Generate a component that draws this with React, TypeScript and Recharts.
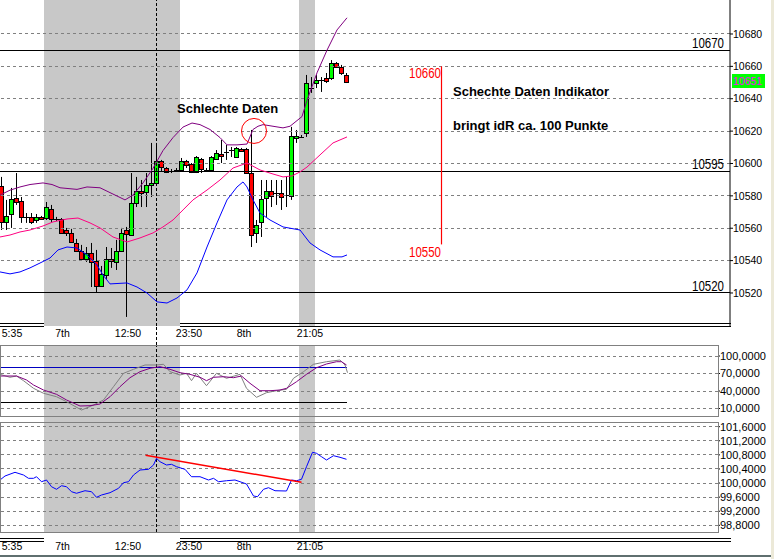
import React from "react";
import {
  ComposedChart, Bar, Line, XAxis, YAxis,
  ReferenceArea, ReferenceLine, ReferenceDot,
} from "recharts";

const FONT = '"Liberation Sans", Arial, sans-serif';

// --- candles (index 0..69) ---
const opens = [
  10586.1, 10563.9, 10568.8, 10578.7, 10576.8, 10567.0, 10567.0, 10565.1, 10567.0, 10566.3,
  10571.9, 10565.7, 10565.7, 10558.9, 10557.1, 10550.9, 10546.0, 10541.0, 10544.7, 10539.8,
  10524.3, 10531.1, 10541.0, 10539.2, 10546.0, 10558.9, 10555.8, 10575.6, 10583.0, 10582.4,
  10586.7, 10588.0, 10601.6, 10597.2, 10595.4, 10596.0, 10596.0, 10601.6, 10599.7, 10594.8,
  10602.8, 10596.0, 10596.0, 10602.8, 10605.9, 10607.1, 10608.3, 10604.0, 10609.0, 10609.0,
  10594.1, 10557.1, 10563.9, 10578.7, 10583.0, 10581.8, 10581.8, 10580.5, 10579.9, 10615.8,
  10616.4, 10618.8, 10646.6, 10649.7, 10651.6, 10652.8, 10652.8, 10662.1, 10659.6, 10654.7,
];
const closes = [
  10563.9, 10567.6, 10578.1, 10576.2, 10567.0, 10566.6, 10563.9, 10567.0, 10565.7, 10573.1,
  10565.7, 10565.7, 10557.1, 10557.1, 10551.5, 10546.0, 10541.0, 10544.7, 10539.2, 10524.3,
  10531.8, 10541.0, 10539.8, 10546.0, 10557.1, 10556.5, 10575.6, 10583.0, 10581.8, 10586.7,
  10588.0, 10601.6, 10597.8, 10594.8, 10595.4, 10596.0, 10601.6, 10599.1, 10594.8, 10604.0,
  10596.6, 10596.0, 10604.0, 10606.5, 10604.6, 10607.1, 10608.3, 10609.6, 10607.7, 10594.1,
  10555.8, 10562.0, 10578.1, 10583.0, 10579.9, 10581.8, 10579.3, 10580.5, 10617.0, 10617.0,
  10616.4, 10649.7, 10646.6, 10651.6, 10651.6, 10651.0, 10662.1, 10659.6, 10655.9, 10650.4,
];
const highs = [
  10591.7, 10577.5, 10584.9, 10594.1, 10579.3, 10569.4, 10569.4, 10568.8, 10567.6, 10576.2,
  10574.4, 10567.0, 10566.3, 10560.2, 10559.6, 10553.4, 10549.7, 10548.4, 10550.9, 10546.6,
  10536.7, 10548.4, 10547.8, 10552.8, 10560.2, 10560.8, 10594.1, 10591.7, 10589.8, 10594.1,
  10612.7, 10612.7, 10602.2, 10597.8, 10596.6, 10597.2, 10603.4, 10602.2, 10600.3, 10604.6,
  10603.4, 10597.2, 10604.6, 10608.3, 10614.5, 10611.4, 10610.2, 10610.2, 10609.6, 10609.6,
  10620.7, 10565.1, 10589.8, 10589.8, 10589.8, 10589.8, 10589.8, 10591.7, 10622.6, 10620.7,
  10617.6, 10654.7, 10653.4, 10654.7, 10653.4, 10655.9, 10663.9, 10662.7, 10660.9, 10655.9,
];
const lows = [
  10558.9, 10558.9, 10560.2, 10574.4, 10563.3, 10563.3, 10562.6, 10563.3, 10565.1, 10565.1,
  10563.9, 10564.5, 10556.5, 10555.2, 10550.9, 10545.3, 10540.4, 10539.2, 10523.7, 10520.0,
  10523.7, 10528.7, 10535.5, 10534.2, 10545.3, 10505.2, 10555.2, 10573.1, 10573.1, 10573.1,
  10579.3, 10587.4, 10594.8, 10594.1, 10594.1, 10594.8, 10594.8, 10597.2, 10594.1, 10594.1,
  10594.1, 10594.8, 10595.4, 10602.2, 10600.3, 10602.2, 10604.0, 10603.4, 10607.1, 10593.5,
  10548.4, 10550.9, 10554.6, 10567.0, 10573.1, 10574.4, 10571.3, 10573.1, 10577.5, 10612.7,
  10615.8, 10616.4, 10643.6, 10646.6, 10644.2, 10649.7, 10651.6, 10659.0, 10654.7, 10649.7,
];

// --- bollinger bands [index, price] ---
const upperBand: [number, number][] = [
  [-0.3, 10580.5], [1.7, 10583.5], [3.7, 10585.5], [5.7, 10587], [8.3, 10588], [10.1, 10587],
  [11.7, 10585], [15.1, 10584], [17.1, 10585.5], [19.7, 10585], [21.7, 10582], [24.7, 10577.5],
  [26.3, 10580.5], [28.3, 10588], [30.3, 10597], [32.3, 10608], [34.3, 10616], [36.3, 10622.5],
  [38.1, 10625], [39.7, 10624], [41.7, 10621], [43.7, 10616], [45.1, 10611.5], [47.1, 10611.5],
  [49.1, 10612], [50.3, 10621], [51.3, 10623], [52.3, 10624], [56.3, 10622], [57.7, 10623],
  [60.1, 10629], [61.1, 10639], [63.1, 10656], [65.1, 10670], [67.1, 10682.5], [69.1, 10690],
];
const middleBand: [number, number][] = [
  [-0.3, 10554.6], [1.7, 10555.8], [3.7, 10557.7], [5.7, 10558.9], [8.3, 10561.4], [10.3, 10563.9],
  [13.1, 10565.7], [15.3, 10566.3], [17.7, 10563.3], [19.7, 10560.2], [22.3, 10554.6], [25.1, 10551.5],
  [27.7, 10554.0], [30.3, 10557.1], [32.3, 10560.8], [34.3, 10565.1], [36.3, 10571.3], [38.3, 10577.5],
  [41.1, 10583.6], [43.7, 10589.8], [46.3, 10597.2], [49.1, 10600.3], [51.7, 10596.0], [54.3, 10593.5],
  [56.3, 10591.7], [58.1, 10592.3], [59.7, 10594.8], [61.1, 10597.8], [63.7, 10605.3], [66.3, 10612.7],
  [69.1, 10616.4],
];
const lowerBand: [number, number][] = [
  [-0.3, 10533.0], [1.7, 10531.8], [3.7, 10533.0], [5.7, 10535.5], [7.7, 10538.5], [9.7, 10541.6],
  [11.3, 10546.6], [13.1, 10548.4], [15.1, 10547.8], [17.1, 10543.5], [19.1, 10537.3], [20.3, 10531.1],
  [21.7, 10525.6], [25.1, 10526.2], [27.1, 10523.7], [29.1, 10520.0], [31.1, 10514.5], [33.1, 10513.8],
  [35.1, 10516.9], [37.1, 10521.9], [39.1, 10532.4], [41.1, 10548.4], [43.1, 10563.3], [45.1, 10577.5],
  [47.1, 10585.5], [48.3, 10588.6], [49.1, 10585.5], [50.1, 10578.7], [51.7, 10569.4], [53.7, 10565.1],
  [56.3, 10560.8], [59.7, 10558.9], [61.7, 10550.9], [63.7, 10546.6], [66.3, 10542.3], [68.1, 10542.3],
  [69.1, 10543.5],
];

// --- stochastic ---
const stochSlow: [number, number][] = [
  [-0.3, 65.7], [3.0, 65.7], [5.0, 58.9], [6.4, 50.3], [8.4, 41.7], [11.0, 34.3], [13.0, 24.6],
  [15.7, 14.3], [17.7, 14.8], [19.7, 17.7], [21.7, 30.2], [23.7, 47.4], [25.7, 62.8], [27.7, 73.1],
  [29.7, 78.9], [31.7, 81.7], [33.7, 77.2], [35.7, 71.4], [37.7, 68.6], [39.7, 63.5], [41.0, 57.7],
  [42.4, 63.5], [44.4, 64.5], [46.4, 62.8], [48.0, 65.7], [49.7, 53.2], [51.7, 40.5], [53.7, 40.5],
  [55.7, 41.7], [57.0, 44.6], [59.0, 55.9], [61.0, 68.6], [63.0, 79.9], [65.0, 86.3], [67.0, 90.2],
  [68.0, 90.2], [69.0, 84.6],
];
const stochFast: [number, number][] = [
  [-0.3, 68.6], [1.7, 63.5], [3.0, 65.7], [4.4, 57.7], [6.4, 44.6], [8.4, 36.1], [11.0, 30.2],
  [13.0, 21.7], [16.0, 7.4], [18.4, 16.0], [20.4, 24.6], [22.4, 47.4], [24.4, 70.3], [26.4, 77.2],
  [28.7, 84.6], [31.0, 84.6], [32.4, 85.8], [33.7, 73.1], [35.7, 67.4], [37.0, 70.3], [38.0, 57.7],
  [39.0, 70.3], [41.0, 49.1], [43.0, 70.3], [45.0, 61.8], [47.7, 68.6], [49.0, 44.6], [51.0, 29.2],
  [53.0, 37.1], [55.0, 40.5], [57.0, 42.9], [58.4, 61.8], [60.4, 73.1], [62.4, 85.8], [65.0, 90.2],
  [67.7, 93.1], [68.7, 84.6], [69.2, 71.4],
];

// --- momentum ---
const momentum: [number, number][] = [
  [-0.3, 100.086], [0.7, 100.2], [2.7, 100.305], [4.4, 100.228], [5.4, 100.134], [6.4, 100.134],
  [7.0, 100.18], [8.0, 100.038], [9.0, 100.086], [10.0, 99.896], [11.0, 99.822], [12.0, 99.924],
  [13.0, 99.896], [14.0, 99.754], [15.0, 99.709], [16.7, 99.782], [18.0, 99.754], [19.0, 99.595],
  [20.0, 99.66], [21.7, 99.726], [23.4, 99.85], [24.4, 100.01], [25.4, 100.038], [26.4, 100.228],
  [27.7, 100.37], [29.4, 100.39], [30.4, 100.512], [31.0, 100.703], [31.7, 100.606], [33.0, 100.512],
  [34.0, 100.532], [35.0, 100.464], [36.7, 100.39], [38.0, 100.18], [39.7, 100.18], [41.4, 100.086],
  [42.4, 100.134], [43.4, 100.038], [45.0, 100.066], [46.7, 100.086], [47.7, 100.038], [49.0, 99.973],
  [50.4, 99.632], [51.2, 99.612], [52.4, 99.822], [53.4, 99.868], [54.7, 99.782], [57.0, 99.774],
  [58.0, 100.086], [59.0, 100.066], [60.0, 100.106], [61.0, 100.464], [62.2, 100.873], [63.0, 100.845],
  [64.0, 100.748], [65.0, 100.654], [66.4, 100.776], [67.7, 100.731], [69.0, 100.674],
];
const momTrend = [{ x: 28.8, y: 100.788 }, { x: 60.0, y: 100.021 }];

// --- axes / markers ---
const timeTicks = [2.1, 12.2, 25.3, 37.5, 48.5, 61.7];
const timeLabels = ["5:35", "7th", "12:50", "23:50", "8th", "21:05"];
const priceTicks = [10520, 10540, 10560, 10580, 10600, 10620, 10640, 10660, 10680];
const levelLines = [10670, 10595, 10520];
const stochTicks = [100, 70, 40, 10];
const momTicks = [101.6, 101.2, 100.8, 100.4, 100.0, 99.6, 99.2, 98.8];
const sessions: [number, number][] = [[8.5, 35.7], [59.5, 62.7]];
const markerIdx = 31;

const candles = opens.map((o, i) => ({ i, o, c: closes[i], h: highs[i], l: lows[i] }));
const pts = (a: [number, number][]) => a.map(([i, v]) => ({ i, v }));

const fmtTime = (v: number) => timeLabels[timeTicks.indexOf(v)] ?? "";
const fmtInd = (v: number) => v.toFixed(4).replace(".", ",");

function Candle(props: any) {
  const { x, y, width, height, payload } = props;
  if (x == null || y == null || !payload) return null;
  const top = Math.min(y, y + height);
  const span = Math.abs(height);
  const { o, c, h, l } = payload;
  const k = span / (h - l);
  const cx = Math.floor(x + width / 2) + 0.5;
  const yOf = (v: number) => top + (h - v) * k;
  const wick = <line x1={cx} x2={cx} y1={top} y2={top + span} stroke="#000" />;
  if (Math.abs(o - c) < 0.7) {
    const yy = Math.round(yOf(o)) + 0.5;
    return (
      <g>
        {wick}
        <line x1={cx - 2.5} x2={cx + 2.5} y1={yy} y2={yy} stroke="#000" />
      </g>
    );
  }
  const bt = Math.round(yOf(Math.max(o, c))) + 0.5;
  const bb = Math.round(yOf(Math.min(o, c))) + 0.5;
  return (
    <g>
      {wick}
      <rect x={cx - 2} y={bt} width={4} height={Math.max(1, bb - bt)}
        fill={c > o ? "#00ff00" : "#ff0000"} stroke="#000" />
    </g>
  );
}

const tickStyle = { fontSize: 10.5, fill: "#000", fontFamily: FONT };
const noMargin = { top: 0, right: 0, bottom: 0, left: 0 };
const lineProps = { dot: false, activeDot: false, isAnimationActive: false, strokeWidth: 1 } as const;

function PriceChart() {
  return (
    <ComposedChart width={770} height={345} data={candles} margin={noMargin}>
      <XAxis dataKey="i" type="number" domain={[-0.3, 145.7]} allowDataOverflow
        ticks={timeTicks} interval={0} tickFormatter={fmtTime} axisLine={false} tickLine={false}
        tickSize={0} tickMargin={4} height={19} tick={tickStyle} />
      <YAxis orientation="right" type="number" domain={[10499.6, 10701]} allowDataOverflow
        ticks={priceTicks} interval={0} width={40} tickSize={3} tickMargin={0}
        axisLine={{ stroke: "#000" }} tickLine={{ stroke: "#000" }} tick={tickStyle} />
      {sessions.map(([a, b]) => (
        <ReferenceArea key={a} x1={a} x2={b} fill="#c8c8c8" fillOpacity={1} stroke="none" />
      ))}
      {priceTicks.map((t) => (
        <ReferenceLine key={t} y={t} stroke="#808080" strokeDasharray="3 3" shapeRendering="crispEdges" />
      ))}
      {levelLines.map((t) => (
        <ReferenceLine key={"lv" + t} y={t} stroke="#000" shapeRendering="crispEdges" />
      ))}
      <ReferenceLine x={markerIdx} stroke="#000" strokeDasharray="3 2" shapeRendering="crispEdges" />
      <Line data={pts(upperBand)} dataKey="v" stroke="#800080" {...lineProps} />
      <Line data={pts(middleBand)} dataKey="v" stroke="#ff0080" {...lineProps} />
      <Line data={pts(lowerBand)} dataKey="v" stroke="#0000ff" {...lineProps} />
      <Bar dataKey={(d: any) => [d.l, d.h]} barSize={5} isAnimationActive={false} activeBar={false}
        shape={(p: any) => <Candle {...p} />} />
      <ReferenceLine segment={[{ x: 88, y: 10660 }, { x: 88, y: 10550 }]} stroke="#ff0000" strokeWidth={1.2} />
      <ReferenceDot x={50.5} y={10620.1} r={12.5} fill="none" stroke="#ff0000" />
    </ComposedChart>
  );
}

function StochChart() {
  return (
    <ComposedChart width={770} height={72} margin={noMargin}>
      <XAxis dataKey="i" type="number" domain={[-0.3, 143.3]} allowDataOverflow hide />
      <YAxis orientation="right" type="number" domain={[-4.57, 118.86]} allowDataOverflow
        ticks={stochTicks} interval={0} width={52} tickSize={2} tickMargin={0}
        axisLine={false} tickLine={{ stroke: "#000" }} tickFormatter={fmtInd}
        tick={{ ...tickStyle, fontSize: 11 }} />
      {sessions.map(([a, b]) => (
        <ReferenceArea key={a} x1={a} x2={b} fill="#c8c8c8" fillOpacity={1} stroke="none" />
      ))}
      {stochTicks.map((t) => (
        <ReferenceLine key={t} y={t} stroke="#808080" strokeDasharray="3 3" shapeRendering="crispEdges" />
      ))}
      <ReferenceLine x={markerIdx} stroke="#000" strokeDasharray="3 2" shapeRendering="crispEdges" />
      <ReferenceLine segment={[{ x: -0.3, y: 80 }, { x: 69.1, y: 80 }]} stroke="#0000c0" shapeRendering="crispEdges" />
      <ReferenceLine segment={[{ x: -0.3, y: 20 }, { x: 69.1, y: 20 }]} stroke="#000" shapeRendering="crispEdges" />
      <Line data={pts(stochFast)} dataKey="v" stroke="#808080" {...lineProps} />
      <Line data={pts(stochSlow)} dataKey="v" stroke="#800080" {...lineProps} />
    </ComposedChart>
  );
}

function MomentumChart() {
  return (
    <ComposedChart width={770} height={139} margin={noMargin}>
      <XAxis dataKey="i" type="number" domain={[-0.3, 143.3]} allowDataOverflow
        ticks={timeTicks} interval={0} tickFormatter={fmtTime} axisLine={false} tickLine={false}
        tickSize={0} tickMargin={11} height={24} tick={tickStyle} />
      <YAxis orientation="right" type="number" domain={[98.6097, 101.8755]} allowDataOverflow
        ticks={momTicks} interval={0} width={52} tickSize={2} tickMargin={0}
        axisLine={false} tickLine={{ stroke: "#000" }} tickFormatter={fmtInd}
        tick={{ ...tickStyle, fontSize: 11 }} />
      {sessions.map(([a, b]) => (
        <ReferenceArea key={a} x1={a} x2={b} fill="#c8c8c8" fillOpacity={1} stroke="none" />
      ))}
      {momTicks.map((t) => (
        <ReferenceLine key={t} y={t} stroke="#808080" strokeDasharray="3 3" shapeRendering="crispEdges" />
      ))}
      <ReferenceLine x={markerIdx} stroke="#000" strokeDasharray="3 2" shapeRendering="crispEdges" />
      <Line data={pts(momentum)} dataKey="v" stroke="#0000ff" {...lineProps} />
      <ReferenceLine segment={momTrend} stroke="#ff0000" strokeWidth={1.5} />
    </ComposedChart>
  );
}

const abs = (s: React.CSSProperties): React.CSSProperties => ({ position: "absolute", ...s });
const bigLbl: React.CSSProperties = {
  fontFamily: FONT, fontSize: 14, lineHeight: "14px", whiteSpace: "nowrap", textAlign: "right", width: 60,
  transform: "scaleX(0.82)", transformOrigin: "right center",
};
const note: React.CSSProperties = {
  fontFamily: FONT, fontWeight: "bold", fontSize: 13, lineHeight: "13px", whiteSpace: "nowrap", color: "#000",
};

export default function App() {
  return (
    <div style={abs({ left: 0, top: 0, width: 774, height: 559, background: "#fff", overflow: "hidden", fontFamily: FONT })}>
      <div style={abs({ left: 0, top: 0 })}><PriceChart /></div>
      <div style={abs({ left: 0, top: 345 })}><StochChart /></div>
      <div style={abs({ left: 0, top: 417 })}><MomentumChart /></div>

      {/* frame pieces */}
      <div style={abs({ left: 0, top: 323, width: 44, height: 1, background: "#000" })} />
      <div style={abs({ left: 0, top: 326, width: 44, height: 1, background: "#000" })} />
      <div style={abs({ left: 180, top: 323, width: 551, height: 1, background: "#000" })} />
      <div style={abs({ left: 180, top: 326, width: 551, height: 1, background: "#000" })} />
      <div style={abs({ left: 156, top: 327, width: 0, height: 18, borderLeft: "1px dashed #000" })} />
      <div style={abs({ left: 0, top: 345, width: 719, height: 72, border: "1px solid #808080", boxSizing: "border-box" })} />
      <div style={abs({ left: 0, top: 422, width: 719, height: 111, border: "1px solid #808080", boxSizing: "border-box" })} />
      <div style={abs({ left: 0, top: 538, width: 44, height: 1, background: "#000" })} />
      <div style={abs({ left: 0, top: 541, width: 44, height: 1, background: "#000" })} />
      <div style={abs({ left: 180, top: 538, width: 551, height: 1, background: "#000" })} />
      <div style={abs({ left: 180, top: 541, width: 551, height: 1, background: "#000" })} />
      <div style={abs({ left: 0, top: 555, width: 771, height: 2, background: "#5f6f6f" })} />
      <div style={abs({ left: 771, top: 0, width: 3, height: 559, background: "#ece9d8" })} />

      {/* level labels */}
      <div style={abs({ ...bigLbl, left: 664, top: 36 })}>10670</div>
      <div style={abs({ ...bigLbl, left: 664, top: 157 })}>10595</div>
      <div style={abs({ ...bigLbl, left: 664, top: 279 })}>10520</div>
      <div style={abs({ ...bigLbl, left: 381, top: 66, color: "#ff0000" })}>10660</div>
      <div style={abs({ ...bigLbl, left: 381, top: 245, color: "#ff0000" })}>10550</div>
      <div style={abs({ left: 732, top: 74, width: 33, height: 14, background: "#00ff00", color: "#ff00ff",
        fontSize: 10.5, lineHeight: "14px", paddingLeft: 1, boxSizing: "border-box" })}>10651</div>

      {/* notes */}
      <div style={abs({ ...note, left: 177, top: 102 })}>Schlechte Daten</div>
      <div style={abs({ ...note, left: 453, top: 85 })}>Schechte Daten Indikator</div>
      <div style={abs({ ...note, left: 453, top: 119 })}>bringt idR ca. 100 Punkte</div>
    </div>
  );
}
